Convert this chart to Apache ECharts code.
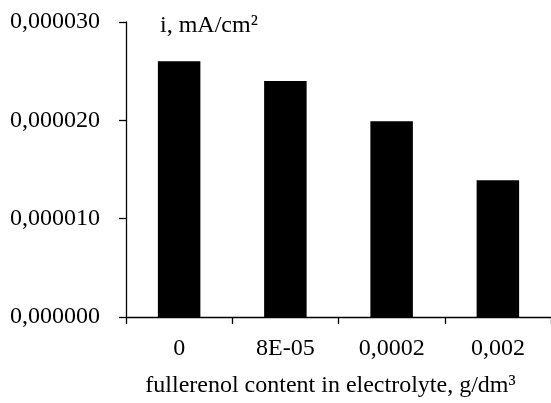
<!DOCTYPE html>
<html>
<head>
<meta charset="utf-8">
<script src="https://cdn.jsdelivr.net/npm/echarts@6/dist/echarts.min.js"></script>
<style>
html,body{margin:0;padding:0;background:#fff;}
#chart{width:551px;height:403px;}
</style>
</head>
<body>
<div id="chart"></div>
<script>
var categories = ['0', '8E-05', '0,0002', '0,002'];
var currentValues = [0.000026, 0.000024, 0.0000199, 0.0000139];
var yTicks = [0, 0.00001, 0.00002, 0.00003];
var xTitle = 'fullerenol content in electrolyte, g/dm\u00B3';
var yTitle = 'i, mA/cm\u00B2';

var font = '"Liberation Serif", "Times New Roman", serif';
var chart = echarts.init(document.getElementById('chart'));
chart.setOption({
  backgroundColor: '#fff',
  animation: false,
  grid: { left: 126, top: 22, width: 428, height: 296 },
  graphic: [{
    type: 'text', left: 160, top: 14,
    style: { text: yTitle, font: '24px ' + font, fill: '#000' }
  }],
  xAxis: {
    type: 'category',
    data: categories,
    name: xTitle,
    nameLocation: 'middle',
    nameGap: 57,
    nameTextStyle: { fontFamily: font, fontSize: 24, color: '#000', padding: [0, 0, 0, -16] },
    axisLine: { lineStyle: { color: '#000', width: 1.3 } },
    axisTick: { show: true, length: 7, lineStyle: { color: '#000', width: 1.3 } },
    axisLabel: { color: '#000', fontFamily: font, fontSize: 24, margin: 20 }
  },
  yAxis: {
    type: 'value',
    min: yTicks[0], max: yTicks[yTicks.length - 1], interval: yTicks[1] - yTicks[0],
    splitLine: { show: false },
    axisLine: { show: true, lineStyle: { color: '#000', width: 1.3 } },
    axisTick: { show: true, length: 7, lineStyle: { color: '#000', width: 1.3 } },
    axisLabel: {
      color: '#000', fontFamily: font, fontSize: 24, margin: 26,
      formatter: function (v) { return v.toFixed(6).replace('.', ','); }
    }
  },
  series: [{
    type: 'bar',
    data: currentValues,
    barWidth: '40%',
    itemStyle: { color: '#000' }
  }]
});
</script>
</body>
</html>
